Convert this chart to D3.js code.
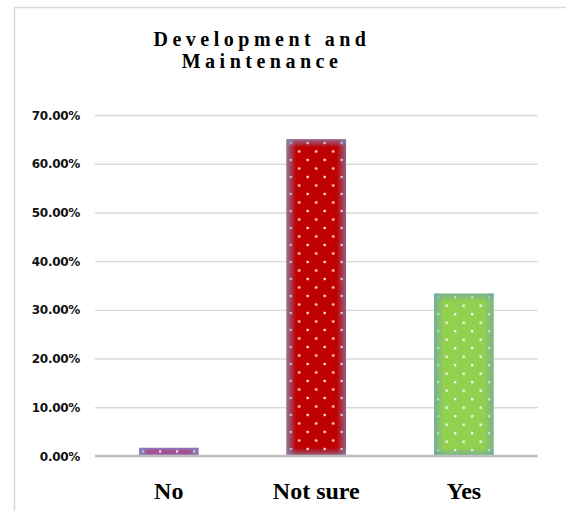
<!DOCTYPE html>
<html>
<head>
<meta charset="utf-8">
<script src="https://cdn.jsdelivr.net/npm/d3@7"></script>
<style>
  html, body { margin: 0; padding: 0; background: #fff; overflow: hidden; }
  svg { display: block; overflow: hidden; }
</style>
</head>
<body>
<svg id="chart" width="566" height="511"></svg>
<script>
// Survey answers and their shares
const categories = ["No", "Not sure", "Yes"];
const shares = [0.0167, 0.65, 0.3333];
const barColors = ["#a8468a", "#c00000", "#92d050"];
const edgeColors = ["#8290cc", "#7f93c8", "#6aa6a8"];
const yTicks = [0, 0.1, 0.2, 0.3, 0.4, 0.5, 0.6, 0.7];
const titleLines = ["Development and", "Maintenance"];

const svg = d3.select("#chart");
const margin = { left: 95, right: 28.4 };
const W = 566;

// chart frame
svg.append("rect")
  .attr("x", 14.5).attr("y", 7.5)
  .attr("width", 570).attr("height", 520)
  .attr("fill", "#fff").attr("stroke", "#d9d9d9").attr("stroke-width", 1.5);

const x = d3.scaleBand()
  .domain(categories)
  .range([margin.left, W - margin.right])
  .paddingInner(0.597).paddingOuter(0.2985);

const y = d3.scaleLinear()
  .domain([0, 0.7])
  .range([456, 115]);

// title
const title = svg.append("text")
  .attr("text-anchor", "middle")
  .attr("font-family", "'Liberation Serif', 'Times New Roman', serif")
  .attr("font-weight", "bold")
  .attr("font-size", 20)
  .attr("letter-spacing", 4.5)
  .attr("fill", "#000");
title.selectAll("tspan").data(titleLines).join("tspan")
  .attr("x", 262).attr("y", (d, i) => 46 + i * 21.5)
  .text(d => d);

// y axis with gridlines
const yAxis = d3.axisLeft(y)
  .tickValues(yTicks)
  .tickFormat(d3.format(".2%"))
  .tickSize(-(W - margin.right - margin.left))
  .tickPadding(15);

const gy = svg.append("g")
  .attr("transform", `translate(${margin.left},0)`)
  .call(yAxis);
gy.select(".domain").remove();
gy.selectAll(".tick line").attr("stroke", "#d9d9d9").attr("stroke-width", 1.4);
gy.selectAll(".tick text")
  .attr("font-family", "'DejaVu Sans', sans-serif")
  .attr("font-weight", "bold")
  .attr("font-size", 12)
  .attr("letter-spacing", -0.3)
  .attr("dy", "0.34em")
  .attr("fill", "#111");

// bar definitions: dot pattern and edge shading
const defs = svg.append("defs");
categories.forEach((c, i) => {
  const bx = x(c), by = y(shares[i]);
  const pat = defs.append("pattern")
    .attr("id", "dots" + i)
    .attr("patternUnits", "userSpaceOnUse")
    .attr("width", 17).attr("height", 17)
    .attr("x", bx + 3).attr("y", by + 2.5);
  pat.append("rect").attr("x", 0).attr("y", 0).attr("width", 2.2).attr("height", 2.2).attr("fill", "#fff");
  pat.append("rect").attr("x", 8.5).attr("y", 8.5).attr("width", 2.2).attr("height", 2.2).attr("fill", "#fff");

  const hg = defs.append("linearGradient").attr("id", "hedge" + i)
    .attr("x1", 0).attr("x2", 1).attr("y1", 0).attr("y2", 0);
  hg.append("stop").attr("offset", 0).attr("stop-color", edgeColors[i]).attr("stop-opacity", 0.8);
  hg.append("stop").attr("offset", 0.16).attr("stop-color", edgeColors[i]).attr("stop-opacity", 0);
  hg.append("stop").attr("offset", 0.84).attr("stop-color", edgeColors[i]).attr("stop-opacity", 0);
  hg.append("stop").attr("offset", 1).attr("stop-color", edgeColors[i]).attr("stop-opacity", 0.65);

  ["top", "bot"].forEach(side => {
    const vg = defs.append("linearGradient").attr("id", side + "edge" + i)
      .attr("x1", 0).attr("x2", 0).attr("y1", side === "top" ? 0 : 1).attr("y2", side === "top" ? 1 : 0);
    vg.append("stop").attr("offset", 0).attr("stop-color", edgeColors[i]).attr("stop-opacity", 0.7);
    vg.append("stop").attr("offset", 1).attr("stop-color", edgeColors[i]).attr("stop-opacity", 0);
  });
});

// bars: base colour, dots, then edge shading
const bars = svg.append("g").selectAll("g").data(categories).join("g");
const barTop = (d, i) => y(shares[i]);
const barH = (d, i) => y(0) - y(shares[i]);
bars.append("rect")
  .attr("x", d => x(d)).attr("y", barTop)
  .attr("width", x.bandwidth()).attr("height", barH)
  .attr("fill", (d, i) => barColors[i]);
bars.append("rect")
  .attr("x", d => x(d)).attr("y", barTop)
  .attr("width", x.bandwidth()).attr("height", barH)
  .attr("fill", (d, i) => `url(#dots${i})`);
bars.append("rect")
  .attr("x", d => x(d)).attr("y", barTop)
  .attr("width", x.bandwidth()).attr("height", barH)
  .attr("fill", (d, i) => `url(#hedge${i})`);
bars.append("rect")
  .attr("x", d => x(d)).attr("y", barTop)
  .attr("width", x.bandwidth())
  .attr("height", (d, i) => Math.min(8, barH(d, i) / 2))
  .attr("fill", (d, i) => `url(#topedge${i})`);
bars.append("rect")
  .attr("x", d => x(d))
  .attr("y", (d, i) => y(0) - Math.min(8, barH(d, i) / 2))
  .attr("width", x.bandwidth())
  .attr("height", (d, i) => Math.min(8, barH(d, i) / 2))
  .attr("fill", (d, i) => `url(#botedge${i})`);

// baseline
svg.append("line")
  .attr("x1", margin.left).attr("x2", W - margin.right)
  .attr("y1", y(0)).attr("y2", y(0))
  .attr("stroke", "#bfbfbf").attr("stroke-width", 2.6);

// category labels
const xAxis = d3.axisBottom(x).tickSize(0).tickPadding(26);
const gx = svg.append("g")
  .attr("transform", `translate(0,${y(0)})`)
  .call(xAxis);
gx.select(".domain").remove();
gx.selectAll(".tick text")
  .attr("font-family", "'Liberation Serif', 'Times New Roman', serif")
  .attr("font-weight", "bold")
  .attr("font-size", 24)
  .attr("fill", "#000");
</script>
</body>
</html>
